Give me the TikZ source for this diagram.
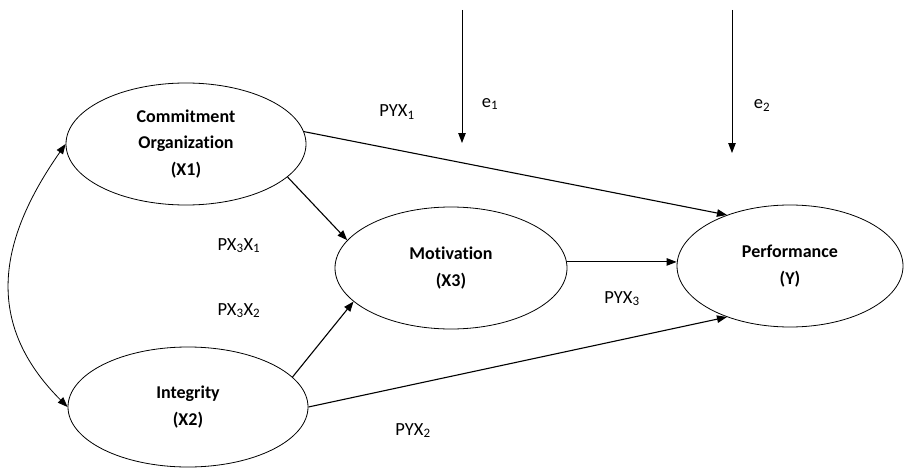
\documentclass[tikz,border=0pt]{standalone}
\usepackage{fontspec}
\setmainfont{Carlito}[Ligatures=NoCommon]
\usetikzlibrary{arrows.meta,shapes.geometric}
\tikzset{
  x=1pt,y=-1pt,
  ell/.style={draw,ellipse,line width=0.8pt,inner sep=0pt,align=center,
    font=\fontsize{18}{26.5}\selectfont\bfseries},
  lbl/.style={anchor=base,inner sep=0pt,font=\fontsize{18.5}{22}\selectfont},
  arr/.style={line width=1.1pt,-{Triangle[length=10pt,width=7.5pt]}},
  darr/.style={line width=0.8pt,{Triangle[length=10pt,width=7.5pt]}-{Triangle[length=10pt,width=7.5pt]}},
}
\begin{document}
\begin{tikzpicture}
\useasboundingbox (0,0) rectangle (904,468);
\node[ell,minimum width=240pt,minimum height=122pt] (x1) at (186,144) {Commitment\\Organization\\(X1)};
\node[ell,minimum width=240pt,minimum height=120pt] (x2) at (188,407) {Integrity\\(X2)};
\node[ell,minimum width=232pt,minimum height=122pt] (mot) at (451,268) {Motivation\\(X3)};
\node[ell,minimum width=226pt,minimum height=122pt] (y) at (790,266) {Performance\\(Y)};

\draw[arr] (x1.6) -- (y.141);
\draw[arr] (x2.0) -- (y.219);
\draw[arr] (x1.-18) -- (mot.165);
\draw[arr] (x2.16) -- (mot.199);
\draw[line width=0.9pt,-{Triangle[length=10pt,width=7.5pt]}] (mot.3) -- (mot.3 -| y.west);
\draw[darr] (x1.west) to[out=235,in=135,looseness=1.15] (x2.west);

\coordinate (e1s) at (462,10);
\coordinate (e1e) at (462,143);
\coordinate (e2s) at (732,10);
\coordinate (e2e) at (732,153);
\draw[arr,line width=0.9pt] (e1s) -- (e1e);
\draw[arr,line width=0.9pt] (e2s) -- (e2e);

\node[lbl] (l1) at (397,117) {PYX\textsubscript{1}};
\node[lbl] (l2) at (413,435) {PYX\textsubscript{2}};
\node[lbl] (l3) at (622,303) {PYX\textsubscript{3}};
\node[lbl] (l4) at (239,250) {PX\textsubscript{3}X\textsubscript{1}};
\node[lbl] (l5) at (239,315) {PX\textsubscript{3}X\textsubscript{2}};
\node[lbl] (l6) at (490,107) {e\textsubscript{1}};
\node[lbl] (l7) at (762,109) {e\textsubscript{2}};
\end{tikzpicture}
\end{document}
